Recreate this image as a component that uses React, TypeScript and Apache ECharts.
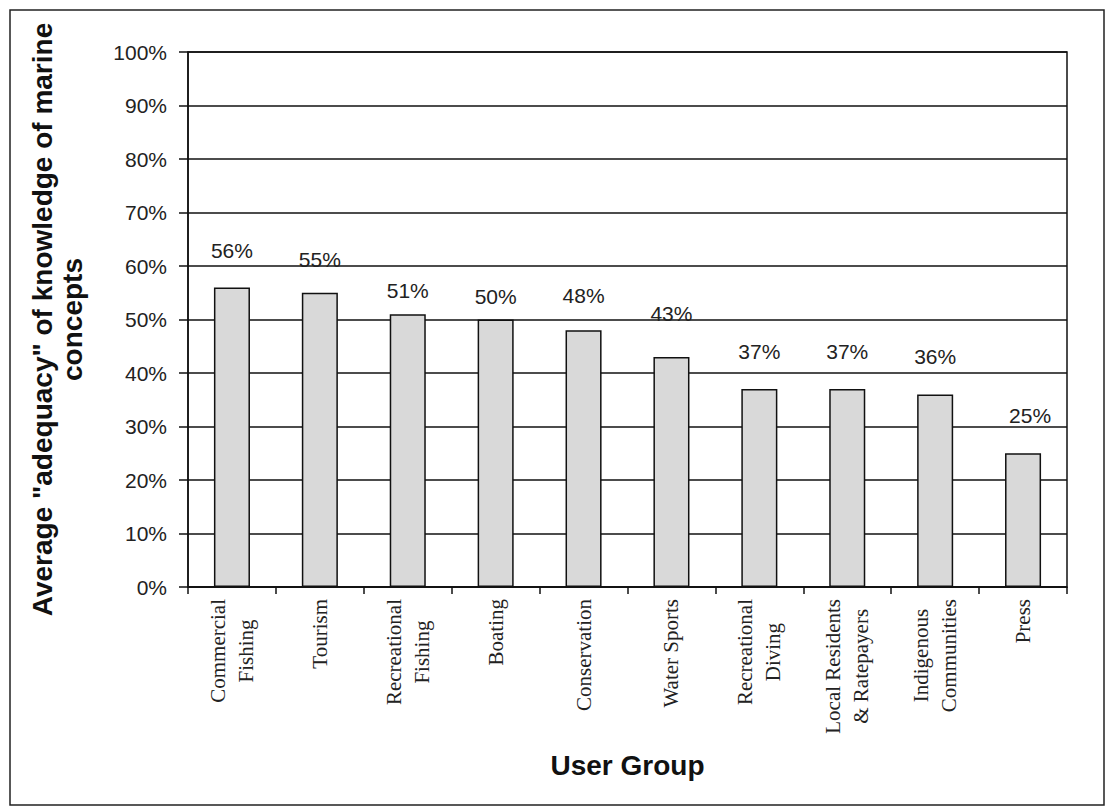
import React, { useEffect, useRef } from "react";
import * as echarts from "echarts";

const categories = [
  "Commercial\nFishing",
  "Tourism",
  "Recreational\nFishing",
  "Boating",
  "Conservation",
  "Water Sports",
  "Recreational\nDiving",
  "Local Residents\n& Ratepayers",
  "Indigenous\nCommunities",
  "Press",
];
const values = [0.56, 0.55, 0.51, 0.5, 0.48, 0.43, 0.37, 0.37, 0.36, 0.25];
const yTicks = [0, 0.1, 0.2, 0.3, 0.4, 0.5, 0.6, 0.7, 0.8, 0.9, 1.0];
const yTitle = 'Average "adequacy" of knowledge of marine\nconcepts';
const xTitle = "User Group";

// label lift above each bar (style only)
const labelGap = [26, 23, 13, 13, 24, 33, 27, 27, 27, 27];
const labelShift = [0, 0, 0, 0, 0, 0, 0, 0, 0, 7];

export default function App() {
  const ref = useRef<HTMLDivElement>(null);
  useEffect(() => {
    if (!ref.current) return;
    const chart = echarts.init(ref.current, null, { renderer: "svg" });
    const option = {
      animation: false,
      backgroundColor: "#ffffff",
      graphic: [
        {
          type: "rect",
          shape: { x: 10, y: 10, width: 1094, height: 795 },
          style: { fill: "none", stroke: "#222", lineWidth: 1.5 },
          silent: true,
        },
      ],
      grid: {
        left: 188,
        right: 40,
        top: 52,
        bottom: 222,
        show: true,
        borderColor: "#111",
        borderWidth: 1.5,
        backgroundColor: "transparent",
      },
      xAxis: {
        type: "category",
        data: categories,
        name: xTitle,
        nameLocation: "middle",
        nameGap: 164,
        nameTextStyle: {
          fontFamily: "Liberation Sans, Arial",
          fontSize: 28,
          fontWeight: "bold",
          color: "#111",
        },
        axisLine: { show: true, lineStyle: { color: "#111", width: 1.5 } },
        axisTick: {
          show: true,
          alignWithLabel: false,
          inside: false,
          length: 7,
          lineStyle: { color: "#111", width: 1.5 },
        },
        axisLabel: {
          interval: 0,
          rotate: 90,
          margin: 12,
          color: "#222",
          fontFamily: "Liberation Serif, Times New Roman, serif",
          fontSize: 21,
          lineHeight: 28,
          formatter: (v: string) =>
            v
              .split("\n")
              .map((s) => `{c|${s}}`)
              .join("\n"),
          rich: {
            c: {
              align: "center",
              fontFamily: "Liberation Serif, Times New Roman, serif",
              fontSize: 21,
              lineHeight: 28,
              color: "#222",
            },
          },
        },
        splitLine: { show: false },
      },
      yAxis: {
        type: "value",
        min: 0,
        max: 1,
        interval: 0.1,
        name: yTitle,
        nameLocation: "middle",
        nameRotate: 90,
        nameGap: 101,
        nameTextStyle: {
          fontFamily: "Liberation Sans, Arial",
          fontSize: 28,
          fontWeight: "bold",
          color: "#111",
          lineHeight: 30,
          align: "center",
        },
        axisLine: { show: true, lineStyle: { color: "#111", width: 1.5 } },
        axisTick: {
          show: true,
          inside: false,
          length: 9,
          lineStyle: { color: "#111", width: 1.5 },
        },
        axisLabel: {
          margin: 21,
          color: "#222",
          fontFamily: "Liberation Sans, Arial",
          fontSize: 21,
          formatter: (v: number) => {
            const t = yTicks.find((y) => Math.abs(y - v) < 1e-6);
            return `${Math.round((t ?? v) * 100)}%`;
          },
        },
        splitLine: { show: true, lineStyle: { color: "#111", width: 1.5 } },
      },
      series: [
        {
          type: "bar",
          barWidth: "41%",
          data: values.map((v, i) => ({
            value: v,
            label: { distance: labelGap[i], offset: [labelShift[i], 0] },
          })),
          itemStyle: {
            color: "#d9d9d9",
            borderColor: "#111",
            borderWidth: 1.5,
          },
          label: {
            show: true,
            position: "top",
            color: "#222",
            fontFamily: "Liberation Sans, Arial",
            fontSize: 21,
            formatter: (p: any) => `${Math.round(p.value * 100)}%`,
          },
        },
      ],
    };
    chart.setOption(option as any);
    return () => chart.dispose();
  }, []);
  return (
    <div
      ref={ref}
      style={{
        position: "fixed",
        left: 0,
        top: 0,
        width: 1107,
        height: 809,
        background: "#fff",
      }}
    />
  );
}
